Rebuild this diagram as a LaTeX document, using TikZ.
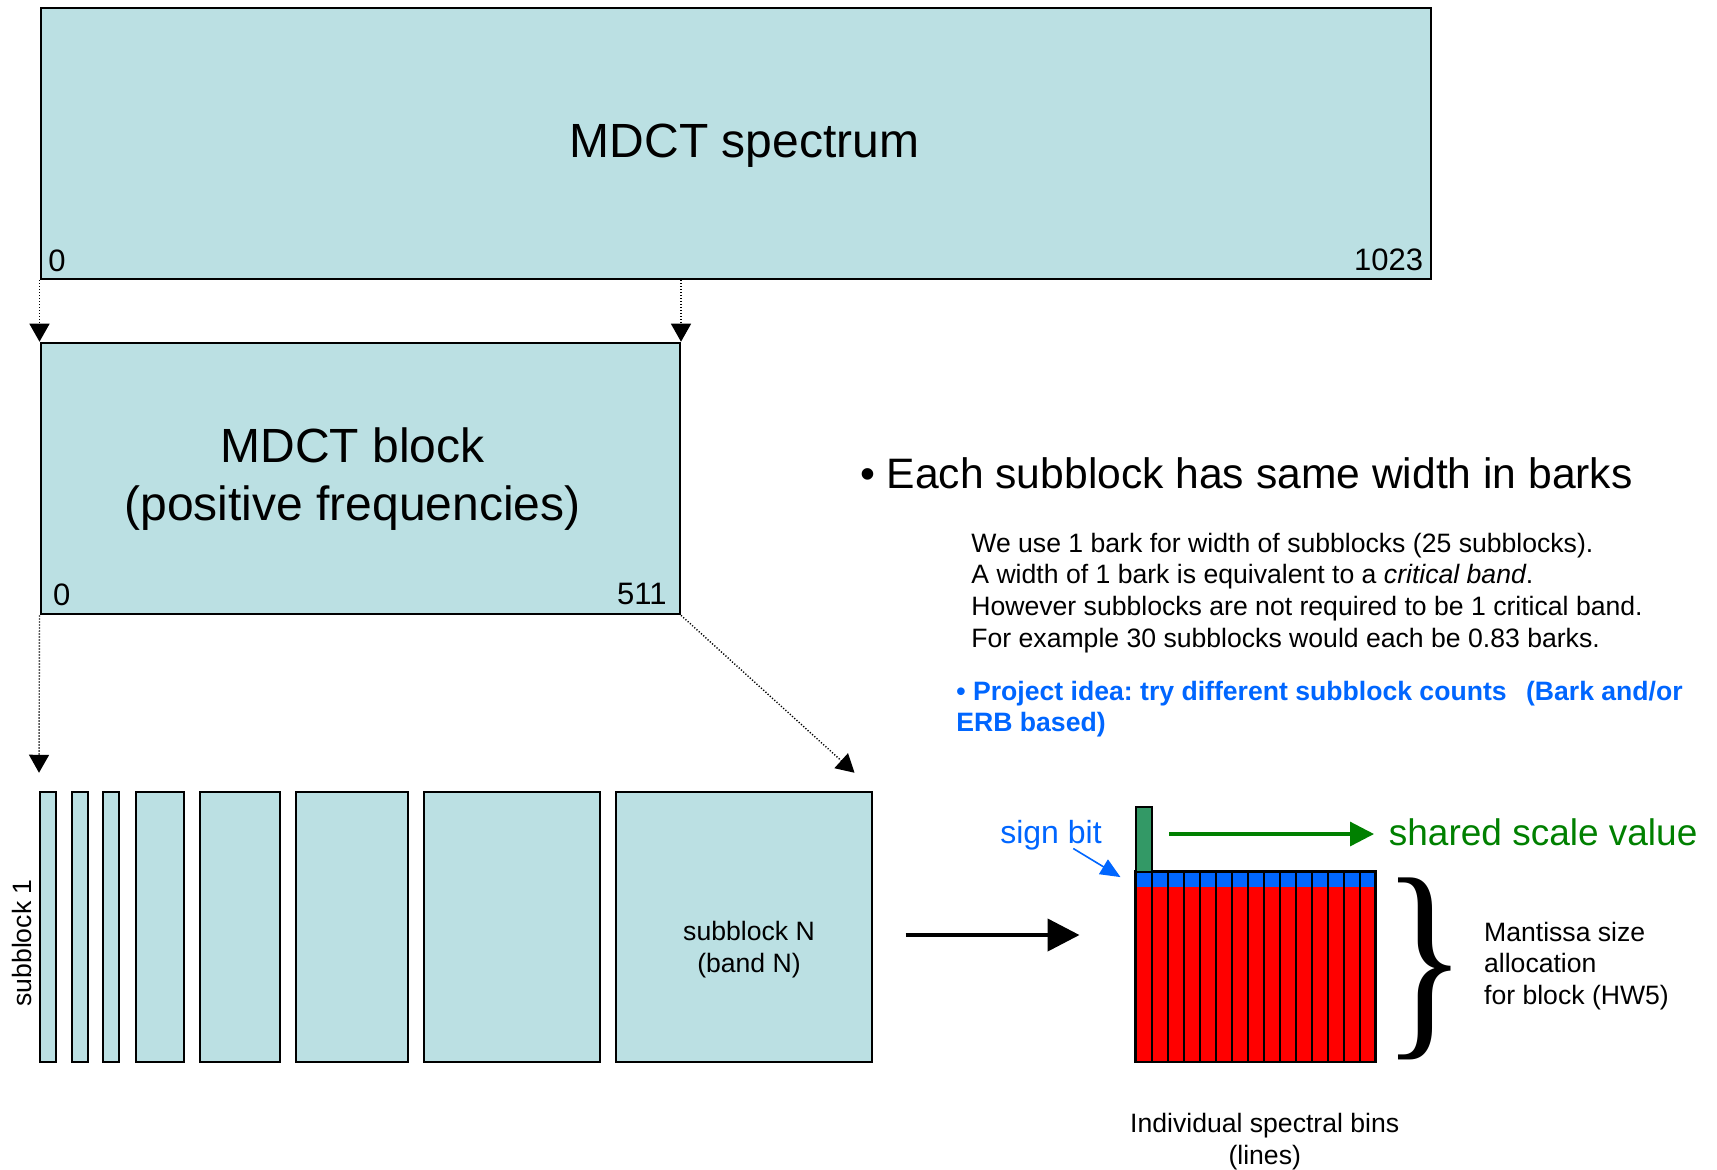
\documentclass[tikz,border=0pt]{standalone}
\usepackage{graphicx}
\usepackage{fontspec}
\setmainfont{Liberation Sans}
\newfontfamily\bracefont{Liberation Serif}
\usetikzlibrary{arrows.meta,calc}
\definecolor{specfill}{RGB}{187,224,227}
\definecolor{scalegreen}{RGB}{51,153,102}
\definecolor{signblue}{RGB}{0,102,255}
\definecolor{textgreen}{RGB}{0,128,0}
\definecolor{binred}{RGB}{255,0,0}
\frenchspacing
\tikzset{
  box/.style={draw=black, line width=1pt, fill=specfill, inner sep=0pt},
  boxtext/.style={align=center, inner sep=0pt, font=\fontsize{24}{29}\selectfont},
  band/.style={draw=black, line width=1pt, fill=specfill, inner sep=0pt, minimum height=135.25pt},
  num/.style={font=\fontsize{15.5}{18}\selectfont, inner sep=0pt},
  txt/.style={font=\fontsize{13.3}{15.85}\selectfont, align=left, inner sep=0pt},
  dotarrow/.style={-{Triangle[length=9pt,width=10pt]}, line width=0.7pt, dash pattern=on 0.6pt off 0.9pt},
  bigarrow/.style={-{Triangle[length=16pt,width=16pt]}, line width=2.2pt},
  greenarrow/.style={-{Triangle[length=12pt,width=12pt]}, line width=1.6pt, draw=textgreen, fill=textgreen},
  signarrow/.style={-{Triangle[length=10pt,width=8.5pt]}, line width=0.8pt, draw=signblue, fill=signblue}
}
\begin{document}
\begin{tikzpicture}[x=0.5pt,y=-0.5pt]
  \useasboundingbox (0,0) rectangle (1717,1169);
  \node[box, minimum width=695.25pt, minimum height=135.65pt] (spec) at (735.75,143.35) {};
  \node[boxtext] (spectext) at (744.6,145.5) {MDCT spectrum};
  \node[num, anchor=west] (s0) at (48,260.6) {0};
  \node[num, anchor=east] (s1023) at (1423.5,259.5) {1023};
  \node[box, minimum width=319.75pt, minimum height=135.8pt] (mid) at (360.25,478.5) {};
  \node[boxtext] (midtext) at (352.6,479.5) {MDCT block\\(positive frequencies)};
  \node[num, anchor=west] (m0) at (52.6,594.6) {0};
  \node[num, anchor=east] (m511) at (667,593.5) {511};
  \foreach \l/\w [count=\i] in {40/16,71.5/16,103/16,135.5/48.5,199.5/80.5,295.5/112.5,424/176,615.5/256}
    \node[band, minimum width=\w*0.5pt] (sb\i) at (\l+\w/2,927) {};
  \node[txt, align=center] (bandN) at (749,949.3) {subblock N\\(band N)};
  \node[txt, rotate=90] (sbone) at (21.9,943) {subblock 1};
  \draw[dotarrow] (spec.south west) -- (mid.north west);
  \draw[dotarrow] (spec.south -| mid.north east) -- (mid.north east);
  \draw[dotarrow] (mid.south west) -- ([yshift=9pt]sb1.north west);
  \draw[dotarrow] (mid.south east) -- ([shift={(-9pt,9pt)}]sb8.north east);
  \draw[bigarrow] ([shift={(16.5pt,-4pt)}]sb8.east) -- ++(174,0);
  \node[font=\fontsize{21.3}{25}\selectfont, anchor=west, inner sep=0pt] (head) at (859.6,473) {\textbullet\ Each subblock has same width in barks};
  \node[txt, anchor=west] (para) at (971,592.7) {We use 1 bark for width of subblocks (25 subblocks).\\A width of 1 bark is equivalent to a \textit{critical band}.\\However subblocks are not required to be 1 critical band.\\For example 30 subblocks would each be 0.83 barks.};
  \node[txt, anchor=west, text=signblue, font=\fontsize{13.3}{15.85}\selectfont\bfseries] (idea) at (956,709) {\textbullet\ Project idea: try different subblock counts\hspace{6pt} (Bark and/or\\ERB based)};
  \foreach \k in {0,...,14} {
    \fill[binred] (1135.5+16*\k,887) rectangle ++(16,175);
    \fill[signblue] (1135.5+16*\k,871.6) rectangle ++(16,15.4);
    \draw[line width=1pt] (1135.5+16*\k,871.6) rectangle ++(16,190.4);
  }
  \node[draw, line width=1.2pt, inner sep=0pt, minimum width=120pt, minimum height=95.2pt] (bins) at (1255.5,966.8) {};
  \node[draw, line width=1pt, fill=scalegreen, inner sep=0pt, minimum width=8.25pt, minimum height=32.3pt] (scale) at (1143.75,839.3) {};
  \node[font=\fontsize{18.5}{22}\selectfont, text=textgreen, anchor=west, inner sep=0pt] (shared) at (1388.5,832) {shared scale value};
  \draw[greenarrow] ([shift={(8pt,-1pt)}]scale.east |- shared.west) -- ([shift={(-7.25pt,-1pt)}]shared.west);
  \node[font=\fontsize{16}{19}\selectfont, text=signblue, inner sep=0pt] (sign) at (1051,835.5) {sign bit};
  \draw[signarrow] ([shift={(11.15pt,1.15pt)}]sign.south) -- ([shift={(-6.9pt,-3.35pt)}]bins.north west);
  \node[font=\bracefont\fontsize{110}{110}\selectfont, inner sep=0pt] (brace) at (1425,969) {\scalebox{0.8}[1]{\}}};
  \node[txt, anchor=west] (mant) at (1483.7,965.8) {Mantissa size\\allocation\\for block (HW5)};
  \node[txt, align=center] (indiv) at (1264.7,1141.3) {Individual spectral bins\\(lines)};
\end{tikzpicture}
\end{document}
